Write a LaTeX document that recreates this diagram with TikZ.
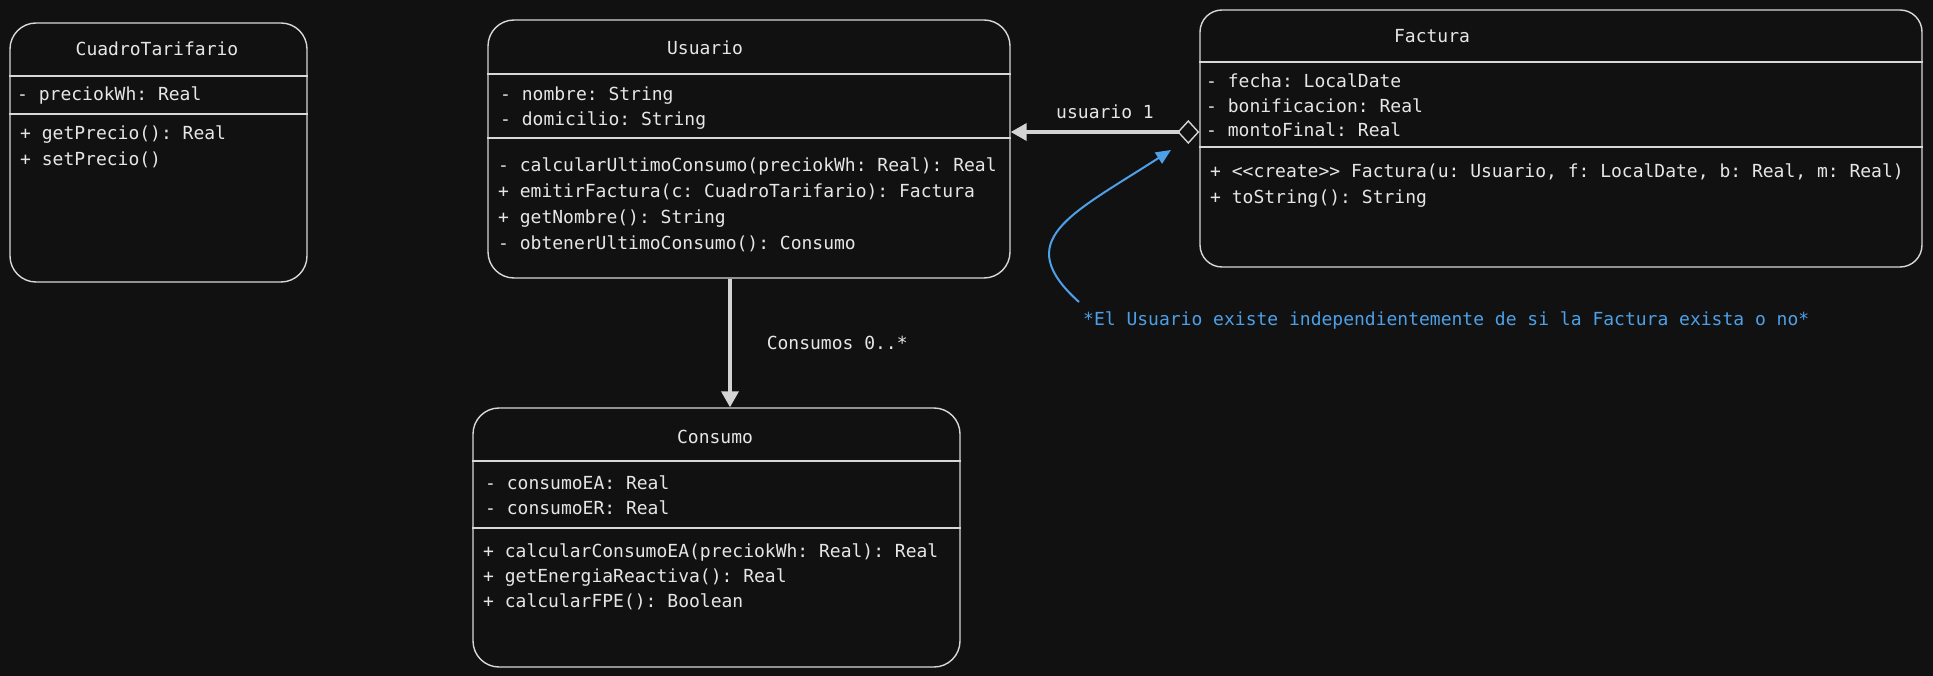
\documentclass[tikz,border=0pt]{standalone}
\usepackage{fontspec}
\setmonofont{DejaVu Sans Mono}
\usetikzlibrary{arrows.meta}
\definecolor{umlbg}{RGB}{17,17,17}
\definecolor{umlline}{RGB}{216,216,216}
\definecolor{umltext}{RGB}{230,230,230}
\definecolor{umlarrow}{RGB}{212,212,212}
\definecolor{umlnote}{RGB}{77,160,232}

\begin{document}
\begin{tikzpicture}[x=1pt, y=-1pt,
        classbox/.style={draw=umlline, line width=1.4pt, rounded corners=26pt, inner sep=0pt},
        sepline/.style={draw=umlline, line width=1.4pt},
        member/.style={anchor=base west, inner sep=0pt, text=umltext, font=\ttfamily\fontsize{18}{25}\selectfont},
        classname/.style={member, anchor=base},
        relline/.style={draw=umlarrow, line width=3.5pt},
    ]
    % background
    \fill[umlbg] (0,0) rectangle (1933,676);

    % CuadroTarifario
    \node[classbox, minimum width=297pt, minimum height=259pt] (cuadro) at (158.5,152.5) {};
    \node[classname] (cuadro-name) at (157,56) {CuadroTarifario};
    \draw[sepline] (cuadro.west |- 0,76) -- (cuadro.east |- 0,76);
    \draw[sepline] (cuadro.west |- 0,114) -- (cuadro.east |- 0,114);
    \node[member] (cuadro-a1) at (17,101) {- preciokWh: Real};
    \foreach \txt [count=\i] in {+ getPrecio(): Real, + setPrecio()}
        \node[member] (cuadro-m\i) at (20,{140+26*(\i-1)}) {\txt};

    % Usuario
    \node[classbox, minimum width=522pt, minimum height=258pt] (usuario) at (749,149) {};
    \node[classname] (usuario-name) at (705,55) {Usuario};
    \draw[sepline] (usuario.west |- 0,74) -- (usuario.east |- 0,74);
    \draw[sepline] (usuario.west |- 0,138) -- (usuario.east |- 0,138);
    \foreach \txt [count=\i] in {- nombre: String, - domicilio: String}
        \node[member] (usuario-a\i) at (500,{101+25*(\i-1)}) {\txt};
    \foreach \txt [count=\i] in {- calcularUltimoConsumo(preciokWh: Real): Real,
            + emitirFactura(c: CuadroTarifario): Factura,
            + getNombre(): String,
            - obtenerUltimoConsumo(): Consumo}
        \node[member] (usuario-m\i) at (498,{172+25.7*(\i-1)}) {\txt};

    % Factura
    \node[classbox, minimum width=722pt, minimum height=257pt, rounded corners=22pt] (factura) at (1561,138.5) {};
    \node[classname] (factura-name) at (1432,43) {Factura};
    \draw[sepline] (factura.west |- 0,62) -- (factura.east |- 0,62);
    \draw[sepline] (factura.west |- 0,147) -- (factura.east |- 0,147);
    \foreach \txt [count=\i] in {- fecha: LocalDate, - bonificacion: Real, - montoFinal: Real}
        \node[member] (factura-a\i) at (1206,{88+24.5*(\i-1)}) {\txt};
    \foreach \txt [count=\i] in {{+ <{}<create>{}> Factura(u: Usuario, f: LocalDate, b: Real, m: Real)},
            + toString(): String}
        \node[member] (factura-m\i) at (1210,{178+26*(\i-1)}) {\txt};

    % Consumo
    \node[classbox, minimum width=487pt, minimum height=259pt] (consumo) at (716.5,537.5) {};
    \node[classname] (consumo-name) at (715,443) {Consumo};
    \draw[sepline] (consumo.west |- 0,461) -- (consumo.east |- 0,461);
    \draw[sepline] (consumo.west |- 0,528) -- (consumo.east |- 0,528);
    \foreach \txt [count=\i] in {- consumoEA: Real, - consumoER: Real}
        \node[member] (consumo-a\i) at (485,{489+25*(\i-1)}) {\txt};
    \foreach \txt [count=\i] in {+ calcularConsumoEA(preciokWh: Real): Real,
            + getEnergiaReactiva(): Real,
            + calcularFPE(): Boolean}
        \node[member] (consumo-m\i) at (483,{557+25*(\i-1)}) {\txt};

    % relations
    \draw[relline, -{Triangle[length=16pt,width=17pt]}] (usuario.south -| 730,0) -- (consumo.north -| 730,0)
        node[midway, member, anchor=west, xshift=35pt] (consumos-lbl) {Consumos 0..*};
    \draw[relline, {Triangle[length=16pt,width=17pt]}-{Diamond[open,length=22pt,width=24pt,line width=1.4pt]}]
        (usuario.east |- 0,132) -- (factura.west |- 0,132)
        node[midway, member, above=11pt] (usuario-lbl) {usuario 1};

    % note
    \node[member, text=umlnote] (note) at (1083,326) {*El Usuario existe independientemente de si la Factura exista o no*};
    \coordinate (note-tip) at (1171,150);
    \draw[umlnote, line width=2pt, -{Triangle[length=15pt,width=13pt]}]
        ([shift={(-4,-10)}]note.north west) .. controls (1010,240) and (1070,215) .. (note-tip);
\end{tikzpicture}
\end{document}
